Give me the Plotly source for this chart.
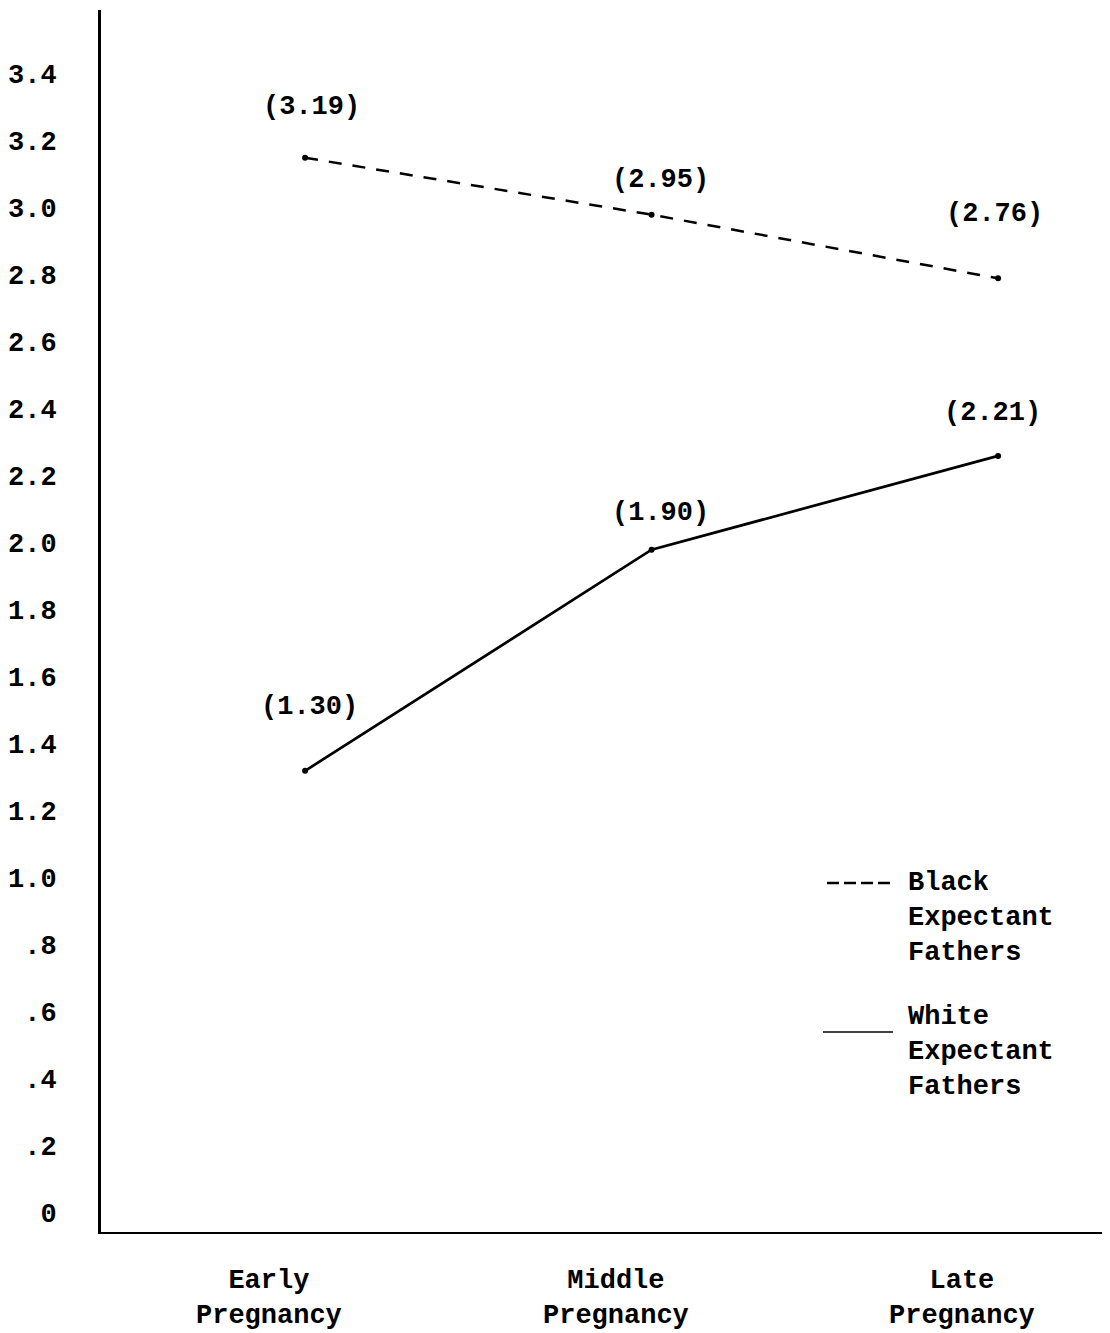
import plotly.graph_objects as go

# ---- data ----
categories = ["Early Pregnancy", "Middle Pregnancy", "Late Pregnancy"]
category_labels = ["Early<br>Pregnancy", "Middle<br>Pregnancy", "Late<br>Pregnancy"]
black_values = [3.15, 2.98, 2.79]      # plotted positions
white_values = [1.32, 1.98, 2.26]
black_labels = ["(3.19)", "(2.95)", "(2.76)"]
white_labels = ["(1.30)", "(1.90)", "(2.21)"]
y_tickvals = [0, 0.2, 0.4, 0.6, 0.8, 1.0, 1.2, 1.4, 1.6, 1.8, 2.0, 2.2, 2.4, 2.6, 2.8, 3.0, 3.2, 3.4]
y_ticktext = ["0", ".2", ".4", ".6", ".8", "1.0", "1.2", "1.4", "1.6", "1.8", "2.0",
              "2.2", "2.4", "2.6", "2.8", "3.0", "3.2", "3.4"]
legend_black = "Black<br>Expectant<br>Fathers"
legend_white = "White<br>Expectant<br>Fathers"

FONT = "Liberation Mono, Courier New, monospace"
FS = 27
TXT = dict(family=FONT, size=FS, color="black", weight="bold")

fig = go.Figure()
fig.add_trace(go.Scatter(
    x=categories, y=black_values, mode="lines+markers",
    line=dict(color="black", width=2.5, dash="13px,11px"),
    marker=dict(color="black", size=6), showlegend=False, hoverinfo="skip"))
fig.add_trace(go.Scatter(
    x=categories, y=white_values, mode="lines+markers",
    line=dict(color="black", width=2.7),
    marker=dict(color="black", size=6), showlegend=False, hoverinfo="skip"))

annotations = []
black_shift = [(6, 51), (9, 35), (-4, 64)]
white_shift = [(4, 64), (9, 37), (-6, 43)]
for c, v, t, (dx, dy) in zip(categories, black_values, black_labels, black_shift):
    annotations.append(dict(x=c, y=v, text=t, showarrow=False, xshift=dx, yshift=dy, font=TXT))
for c, v, t, (dx, dy) in zip(categories, white_values, white_labels, white_shift):
    annotations.append(dict(x=c, y=v, text=t, showarrow=False, xshift=dx, yshift=dy, font=TXT))
for c, t in zip(categories, category_labels):
    annotations.append(dict(x=c, y=0, yref="paper", yanchor="top", text=t, showarrow=False,
                            xshift=-36, yshift=-32, align="center", font=TXT))

# page offset of 8px (body margin); figure placed at (8, 8)
# plot area in window pixels: x 101..1110, y 10..1232
def px_x(p):
    return (p - 101) / (1110 - 101)

def px_y(p):
    return (1232 - p) / 1222

shapes = [
    dict(type="line", xref="paper", yref="paper", x0=px_x(827), x1=px_x(892),
         y0=px_y(883), y1=px_y(883), line=dict(color="black", width=2.5, dash="12px,5px")),
    dict(type="line", xref="paper", yref="paper", x0=px_x(823), x1=px_x(893),
         y0=px_y(1032), y1=px_y(1032), line=dict(color="black", width=1.5)),
]
annotations.append(dict(xref="paper", yref="paper", x=px_x(906), y=px_y(866), xanchor="left",
                        yanchor="top", text=legend_black, showarrow=False, align="left", font=TXT))
annotations.append(dict(xref="paper", yref="paper", x=px_x(906), y=px_y(1000), xanchor="left",
                        yanchor="top", text=legend_white, showarrow=False, align="left", font=TXT))

fig.update_layout(
    width=1102, height=1325,
    margin=dict(l=93, r=0, t=2, b=101),
    paper_bgcolor="white", plot_bgcolor="white",
    annotations=annotations, shapes=shapes,
    xaxis=dict(range=[-0.589, 2.323], showgrid=False, zeroline=False, showticklabels=False,
               showline=True, linecolor="black", linewidth=2, ticks=""),
    yaxis=dict(range=[-0.0567, 3.591], showgrid=False, zeroline=False,
               tickvals=y_tickvals, ticktext=y_ticktext, ticks="",
               ticklabelstandoff=36, tickfont=TXT,
               showline=True, linecolor="black", linewidth=3),
    font=dict(family=FONT, size=FS, color="black"),
)

fig.write_html("out.html")
